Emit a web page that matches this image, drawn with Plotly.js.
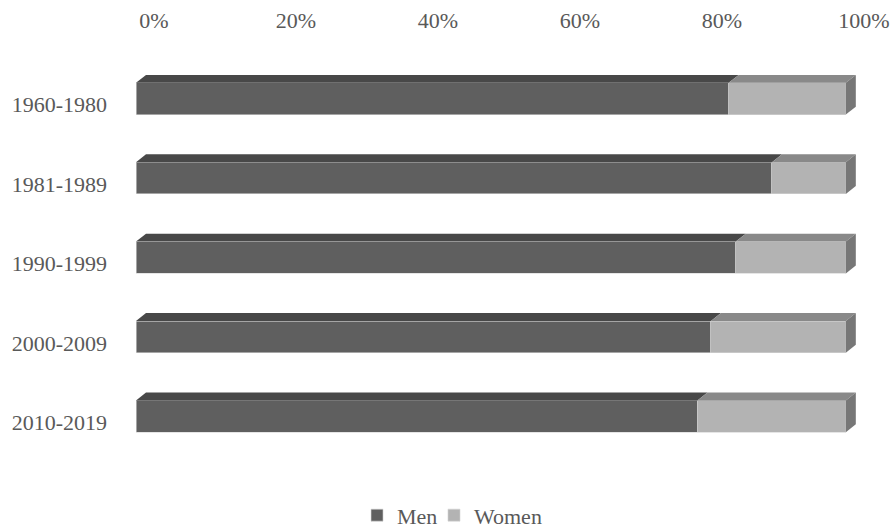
<!DOCTYPE html>
<html>
<head>
<meta charset="utf-8">
<script src="https://cdn.plot.ly/plotly-3.0.1.min.js"></script>
<style>
  html, body { margin: 0; padding: 0; background: #fff; }
  #chart { width: 893px; height: 528px; }
</style>
</head>
<body>
<div id="chart"></div>
<script>
// Share of men and women per period (percent)
const periods = ['1960-1980', '1981-1989', '1990-1999', '2000-2009', '2010-2019'];
const men = [83.5, 89.6, 84.5, 81.0, 79.1];
const women = men.map(v => +(100 - v).toFixed(1));

// Drawing style
const FONT = 'Liberation Serif, Times New Roman, serif';
const TEXT = '#595959';
const MEN_FRONT = '#5f5f5f', MEN_TOP = '#484848';
const WOMEN_FRONT = '#b3b3b3', WOMEN_TOP = '#898989', SIDE = '#777777';
const BAR_H = 0.4;    // front face height in category units
const DX = 1.41;      // depth offset along x (percent units)
const DY = 0.1;       // depth offset along y (category units)

const pos = periods.map((_, i) => i);

const traces = [
  {
    type: 'bar', orientation: 'h', name: 'Men', legend: 'legend',
    y: pos, x: men, width: BAR_H,
    marker: { color: MEN_FRONT, line: { color: '#d4d4d4', width: 0.6 } },
    hoverinfo: 'x'
  },
  {
    type: 'bar', orientation: 'h', name: 'Women', legend: 'legend2',
    y: pos, x: women, width: BAR_H,
    marker: { color: WOMEN_FRONT, line: { color: '#d4d4d4', width: 0.6 } },
    hoverinfo: 'x'
  }
];

// Top and side faces of each 3D bar
function face(xs, ys, color) {
  return {
    type: 'scatter', mode: 'lines', x: xs, y: ys, fill: 'toself',
    fillcolor: color, line: { width: 0, color: color },
    showlegend: false, hoverinfo: 'skip'
  };
}
pos.forEach((c, i) => {
  const m = men[i], total = men[i] + women[i];
  const ft = c - BAR_H / 2, bt = ft - DY, fb = c + BAR_H / 2;
  traces.push(face([0, DX, m + DX, m, 0], [ft, bt, bt, ft, ft], MEN_TOP));
  traces.push(face([m, m + DX, total + DX, total, m], [ft, bt, bt, ft, ft], WOMEN_TOP));
  traces.push(face([total, total + DX, total + DX, total, total], [ft, bt, fb - DY, fb, ft], SIDE));
});

const legendStyle = {
  orientation: 'h', xref: 'container', yref: 'container',
  xanchor: 'left', y: 0.024, yanchor: 'middle',
  bgcolor: 'rgba(0,0,0,0)',
  font: { family: FONT, color: TEXT, size: 22 },
  itemwidth: 30
};

const layout = {
  width: 893, height: 528,
  margin: { l: 135.5, r: 33.3, t: 59.3, b: 71.6 },
  paper_bgcolor: '#ffffff', plot_bgcolor: '#ffffff',
  barmode: 'stack',
  bargap: 0,
  font: { family: FONT, color: TEXT, size: 22 },
  showlegend: true,
  legend: Object.assign({}, legendStyle, { x: 0.3998 }),
  legend2: Object.assign({}, legendStyle, { x: 0.486 }),
  xaxis: {
    range: [0, 102], side: 'top',
    tickvals: [0, 20, 40, 60, 80, 100],
    ticktext: ['0%', '20%', '40%', '60%', '80%', '100%'],
    showgrid: false, zeroline: false, showline: false, ticks: '',
    ticklabelstandoff: 26, ticklabelshift: 18,
    tickfont: { family: FONT, color: TEXT, size: 22 },
    fixedrange: true
  },
  yaxis: {
    range: [4.5, -0.5],
    tickvals: pos, ticktext: periods,
    showgrid: false, zeroline: false, showline: false, ticks: '',
    ticklabelstandoff: 28, ticklabelshift: -6,
    tickfont: { family: FONT, color: TEXT, size: 22 },
    fixedrange: true
  }
};

Plotly.newPlot('chart', traces, layout, { displayModeBar: false, staticPlot: true });
</script>
</body>
</html>
